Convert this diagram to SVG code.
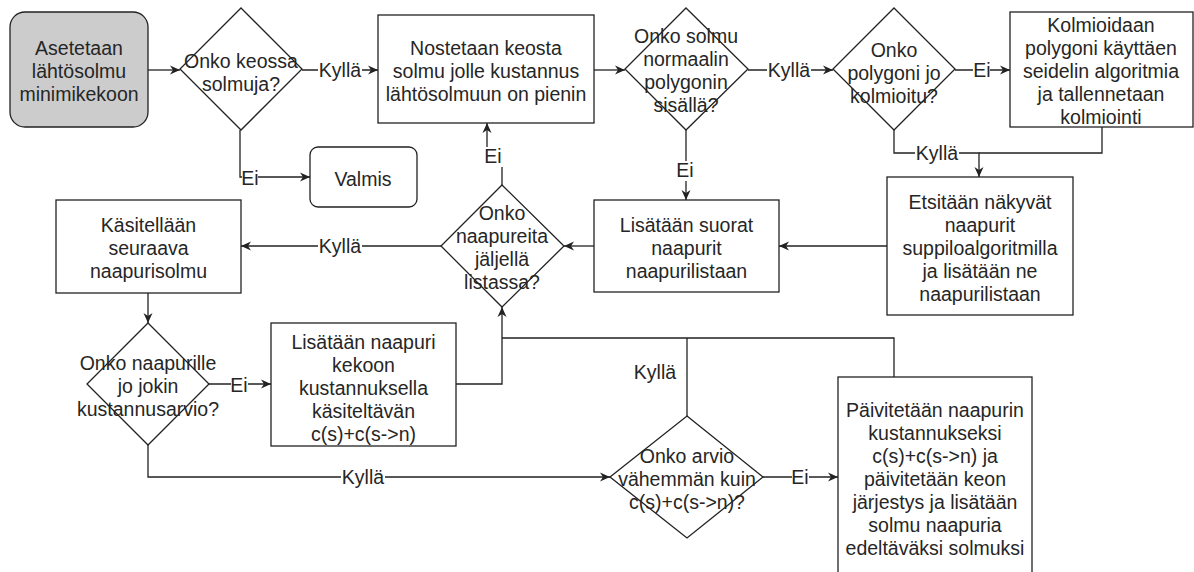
<svg xmlns="http://www.w3.org/2000/svg" width="1194" height="572" viewBox="0 0 1194 572">
  <style>
    .box { fill: #ffffff; stroke: #222222; stroke-width: 1.3; }
    .start { fill: #cccccc; stroke: #222222; stroke-width: 1.3; }
    .t { font-family: "Liberation Sans", Arial, sans-serif; font-size: 19.5px; fill: #262626; text-anchor: middle; }
    .edge { fill: none; stroke: #222222; stroke-width: 1.3; }
    .arrow { marker-end: url(#arr); }
    .lbg { fill: #ffffff; }
  </style>
  <defs>
    <marker id="arr" markerUnits="userSpaceOnUse" markerWidth="12" markerHeight="10" refX="10" refY="5" orient="auto">
      <path d="M0,0.5 L10,5 L0,9.5 L3,5 Z" fill="#222222"/>
    </marker>
  </defs>
  <rect width="1194" height="572" fill="#ffffff"/>

  <!-- connectors -->
  <g id="connectors">
    <path class="edge arrow" d="M148,70 H180"/>
    <path class="edge arrow" d="M302,70 H378"/>
    <path class="edge arrow" d="M240,130 V177 H310"/>
    <path class="edge arrow" d="M594,70 H625"/>
    <path class="edge arrow" d="M748,70 H833"/>
    <path class="edge arrow" d="M955,70 H1010"/>
    <path class="edge arrow" d="M894,130 V153 H979 V177"/>
    <path class="edge" d="M1102,127 V153 H979"/>
    <path class="edge arrow" d="M686,130 V200"/>
    <path class="edge arrow" d="M887,246 H779"/>
    <path class="edge arrow" d="M594,246 H564"/>
    <path class="edge arrow" d="M502,185 V157 H487 V123"/>
    <path class="edge arrow" d="M441,246 H241"/>
    <path class="edge arrow" d="M148,293 V323"/>
    <path class="edge arrow" d="M209,384 H271"/>
    <path class="edge arrow" d="M148,445 V477 H610"/>
    <path class="edge arrow" d="M456,384 H502 V307"/>
    <path class="edge" d="M687,416 V338"/>
    <path class="edge" d="M894,377 V338 H502"/>
    <path class="edge arrow" d="M763,477 H838"/>

    <!-- edge labels -->
    <g id="edge-labels">
      <rect class="lbg" x="318" y="61" width="44" height="20"/>
      <text class="t" x="340" y="77">Kyllä</text>
      <rect class="lbg" x="242" y="168" width="16" height="20"/>
      <text class="t" x="250" y="185">Ei</text>
      <rect class="lbg" x="767" y="61" width="44" height="20"/>
      <text class="t" x="789" y="77">Kyllä</text>
      <rect class="lbg" x="973" y="61" width="17" height="20"/>
      <text class="t" x="982" y="77">Ei</text>
      <rect class="lbg" x="915" y="144" width="44" height="20"/>
      <text class="t" x="937" y="160">Kyllä</text>
      <rect class="lbg" x="484" y="147" width="19" height="20"/>
      <text class="t" x="493" y="163">Ei</text>
      <rect class="lbg" x="677" y="161" width="17" height="20"/>
      <text class="t" x="685" y="177">Ei</text>
      <rect class="lbg" x="318" y="237" width="44" height="20"/>
      <text class="t" x="340" y="253">Kyllä</text>
      <rect class="lbg" x="231" y="376" width="17" height="20"/>
      <text class="t" x="239" y="392">Ei</text>
      <rect class="lbg" x="341" y="468" width="44" height="20"/>
      <text class="t" x="363" y="484">Kyllä</text>
      <text class="t" x="655" y="379">Kyllä</text>
      <rect class="lbg" x="792" y="468" width="17" height="20"/>
      <text class="t" x="800" y="484">Ei</text>
    </g>
  </g>

  <!-- nodes -->
  <g id="start">
    <rect class="start" x="10" y="12" width="138" height="115" rx="15" ry="15"/>
    <text class="t" x="79" y="55">Asetetaan</text>
    <text class="t" x="79" y="78">lähtösolmu</text>
    <text class="t" x="79" y="101">minimikekoon</text>
  </g>

  <g id="heap-not-empty">
    <polygon class="box" points="241,8 302,69 241,130 180,69"/>
    <text class="t" x="241" y="68">Onko keossa</text>
    <text class="t" x="241" y="91">solmuja?</text>
  </g>

  <g id="done">
    <rect class="box" x="310" y="147" width="107" height="60" rx="8" ry="8"/>
    <text class="t" x="363" y="186">Valmis</text>
  </g>

  <g id="pop-min">
    <rect class="box" x="378" y="15" width="216" height="108"/>
    <text class="t" x="486" y="55">Nostetaan keosta</text>
    <text class="t" x="486" y="78">solmu jolle kustannus</text>
    <text class="t" x="486" y="101">lähtösolmuun on pienin</text>
  </g>

  <g id="inside-polygon">
    <polygon class="box" points="686,8 748,69 686,130 625,69"/>
    <text class="t" x="686" y="43">Onko solmu</text>
    <text class="t" x="686" y="66">normaalin</text>
    <text class="t" x="686" y="89">polygonin</text>
    <text class="t" x="686" y="112">sisällä?</text>
  </g>

  <g id="triangulated">
    <polygon class="box" points="894,8 955,69 894,130 833,69"/>
    <text class="t" x="894" y="57">Onko</text>
    <text class="t" x="894" y="80">polygoni jo</text>
    <text class="t" x="894" y="103">kolmioitu?</text>
  </g>

  <g id="triangulate">
    <rect class="box" x="1010" y="12" width="183" height="115"/>
    <text class="t" x="1101" y="32">Kolmioidaan</text>
    <text class="t" x="1101" y="55">polygoni käyttäen</text>
    <text class="t" x="1101" y="78">seidelin algoritmia</text>
    <text class="t" x="1101" y="101">ja tallennetaan</text>
    <text class="t" x="1101" y="124">kolmiointi</text>
  </g>

  <g id="visible-neighbours">
    <rect class="box" x="887" y="177" width="186" height="138"/>
    <text class="t" x="980" y="209">Etsitään näkyvät</text>
    <text class="t" x="980" y="232">naapurit</text>
    <text class="t" x="980" y="255">suppiloalgoritmilla</text>
    <text class="t" x="980" y="278">ja lisätään ne</text>
    <text class="t" x="980" y="301">naapurilistaan</text>
  </g>

  <g id="direct-neighbours">
    <rect class="box" x="594" y="200" width="185" height="92"/>
    <text class="t" x="686.5" y="232">Lisätään suorat</text>
    <text class="t" x="686.5" y="255">naapurit</text>
    <text class="t" x="686.5" y="278">naapurilistaan</text>
  </g>

  <g id="neighbours-left">
    <polygon class="box" points="502,185 564,246 502,307 441,246"/>
    <text class="t" x="502" y="220">Onko</text>
    <text class="t" x="502" y="243">naapureita</text>
    <text class="t" x="502" y="266">jäljellä</text>
    <text class="t" x="502" y="289">listassa?</text>
  </g>

  <g id="next-neighbour">
    <rect class="box" x="56" y="200" width="185" height="93"/>
    <text class="t" x="148.5" y="232">Käsitellään</text>
    <text class="t" x="148.5" y="255">seuraava</text>
    <text class="t" x="148.5" y="278">naapurisolmu</text>
  </g>

  <g id="has-estimate">
    <polygon class="box" points="148,323 209,384 148,445 87,384"/>
    <text class="t" x="148" y="370">Onko naapurille</text>
    <text class="t" x="148" y="393">jo jokin</text>
    <text class="t" x="148" y="416">kustannusarvio?</text>
  </g>

  <g id="push-neighbour">
    <rect class="box" x="271" y="323" width="185" height="123"/>
    <text class="t" x="363.5" y="349">Lisätään naapuri</text>
    <text class="t" x="363.5" y="372">kekoon</text>
    <text class="t" x="363.5" y="395">kustannuksella</text>
    <text class="t" x="363.5" y="418">käsiteltävän</text>
    <text class="t" x="363.5" y="441">c(s)+c(s-&gt;n)</text>
  </g>

  <g id="estimate-smaller">
    <polygon class="box" points="687,416 763,477 687,538 610,477"/>
    <text class="t" x="687" y="463">Onko arvio</text>
    <text class="t" x="687" y="486">vähemmän kuin</text>
    <text class="t" x="687" y="509">c(s)+c(s-&gt;n)?</text>
  </g>

  <g id="update-neighbour">
    <rect class="box" x="838" y="377" width="194" height="205"/>
    <text class="t" x="935" y="417">Päivitetään naapurin</text>
    <text class="t" x="935" y="440">kustannukseksi</text>
    <text class="t" x="935" y="463">c(s)+c(s-&gt;n) ja</text>
    <text class="t" x="935" y="486">päivitetään keon</text>
    <text class="t" x="935" y="509">järjestys ja lisätään</text>
    <text class="t" x="935" y="532">solmu naapuria</text>
    <text class="t" x="935" y="555">edeltäväksi solmuksi</text>
  </g>
</svg>
